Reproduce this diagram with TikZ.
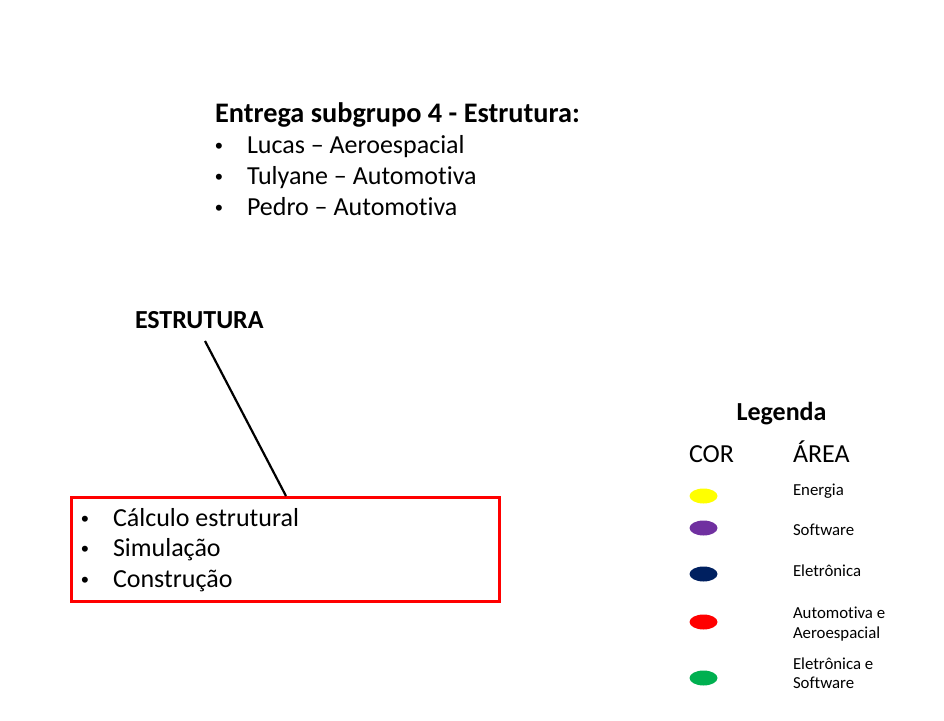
\documentclass[tikz,border=0pt]{standalone}
\usepackage{fontspec}
\setmainfont{Carlito}[Ligatures=NoCommon]
\newfontfamily\bulletfont{Liberation Sans}
\usetikzlibrary{shapes.geometric}
\definecolor{cyellow}{HTML}{FFFF00}
\definecolor{cpurple}{HTML}{7030A0}
\definecolor{cnavy}{HTML}{002060}
\definecolor{cred}{HTML}{FF0000}
\definecolor{cgreen}{HTML}{00B050}
\begin{document}
\begin{tikzpicture}[x=1pt,y=-1pt,
  txt/.style={anchor=base west,inner sep=0pt,outer sep=0pt},
  big/.style={txt,font=\fontsize{26}{30}\selectfont},
  bul/.style={txt,font=\bulletfont\fontsize{22}{26}\selectfont},
  small/.style={txt,font=\fontsize{16.8}{20}\selectfont},
  dot/.style={ellipse,minimum width=28pt,minimum height=15pt,inner sep=0pt,draw=none}]
\useasboundingbox (0,0) rectangle (944,720);
% title block
\node[txt,font=\fontsize{28.3}{32}\selectfont\bfseries] (title) at (215,122.5) {Entrega subgrupo 4 - Estrutura:};
\node[bul] (b1) at (215,153) {•};
\node[big] (t1) at (247,153) {Lucas – Aeroespacial};
\node[bul] (b2) at (215,184) {•};
\node[big] (t2) at (247,184) {Tulyane – Automotiva};
\node[bul] (b3) at (215,215) {•};
\node[big] (t3) at (247,215) {Pedro – Automotiva};
% structure
\node[txt,font=\fontsize{26}{30}\selectfont\bfseries] (estr) at (135,328.5) {ESTRUTURA};
\coordinate (lineA) at (205,341);
\node[draw=cred,line width=3pt,minimum width=428pt,minimum height=104pt,anchor=north west,inner sep=0pt] (box) at (70,496) {};
\coordinate (lineB) at (286,496);
\draw[line width=2.2pt,black] (lineA) -- (lineB);
\node[bul] (s1b) at (81,526) {•};
\node[big] (s1) at (113,526) {Cálculo estrutural};
\node[bul] (s2b) at (81,556.5) {•};
\node[big] (s2) at (113,556.5) {Simulação};
\node[bul] (s3b) at (81,587) {•};
\node[big] (s3) at (113,587) {Construção};
% legend
\node[anchor=base,inner sep=0pt,font=\fontsize{26}{30}\selectfont\bfseries] (leg) at (781.5,420.5) {Legenda};
\node[big] (cor) at (689,462) {COR};
\node[big] (area) at (793,462) {ÁREA};
\node[dot,fill=cyellow] (e1) at (703.5,496) {};
\node[dot,fill=cpurple] (e2) at (703.5,528) {};
\node[dot,fill=cnavy] (e3) at (703.5,574) {};
\node[dot,fill=cred] (e4) at (703.5,622) {};
\node[dot,fill=cgreen] (e5) at (703.5,678) {};
\node[small] (l1) at (793,495) {Energia};
\node[small] (l2) at (793,535.5) {Software};
\node[small] (l3) at (793,576.5) {Eletrônica};
\node[small] (l4a) at (793,618) {Automotiva e};
\node[small] (l4b) at (793,638) {Aeroespacial};
\node[small] (l5a) at (793,669) {Eletrônica e};
\node[small] (l5b) at (793,688.5) {Software};
\end{tikzpicture}
\end{document}
